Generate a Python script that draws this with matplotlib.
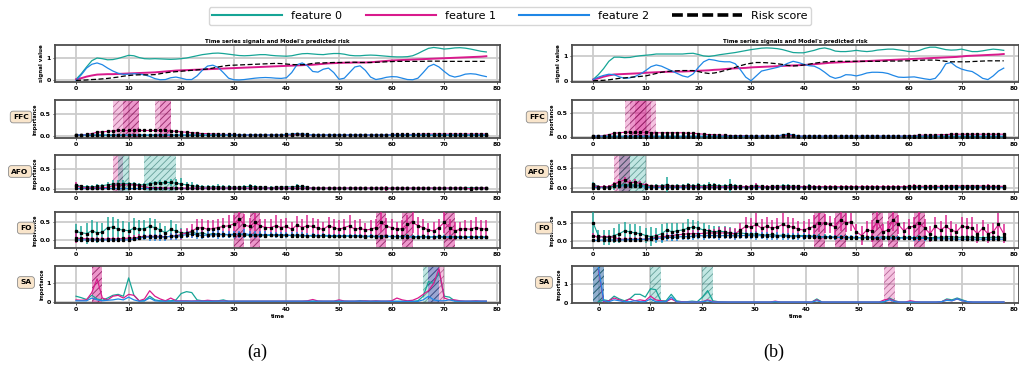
import matplotlib
matplotlib.use("Agg")
import matplotlib.pyplot as plt
from matplotlib.lines import Line2D
from matplotlib.colors import to_rgb
import numpy as np

plt.rcParams["hatch.linewidth"] = 0.6

C0, C1, C2 = "#16a596", "#d91a8c", "#1f87e6"
T = np.arange(79)

# ---------------- panel (a) ----------------
sig_a_f0 = [0.05, 0.3, 0.6, 0.88, 1.0, 0.97, 0.92, 0.93, 0.98, 1.05,
            1.12, 1.1, 1.02, 0.97, 0.96, 0.97, 0.96, 0.95, 0.94, 0.95,
            0.97, 1.0, 1.05, 1.1, 1.15, 1.18, 1.21, 1.22, 1.2, 1.17,
            1.14, 1.11, 1.1, 1.11, 1.13, 1.15, 1.15, 1.12, 1.1, 1.09,
            1.08, 1.1, 1.15, 1.19, 1.2, 1.18, 1.16, 1.15, 1.18, 1.2,
            1.2, 1.17, 1.12, 1.1, 1.1, 1.12, 1.13, 1.12, 1.1, 1.08,
            1.06, 1.05, 1.05, 1.06, 1.1, 1.2, 1.32, 1.43, 1.47, 1.44,
            1.4, 1.42, 1.45, 1.46, 1.44, 1.4, 1.35, 1.3, 1.27]
sig_a_f1 = [0.05, 0.1, 0.17, 0.22, 0.26, 0.27, 0.28, 0.28, 0.29, 0.3,
            0.31, 0.32, 0.33, 0.34, 0.35, 0.36, 0.38, 0.4, 0.42, 0.44,
            0.45, 0.46, 0.47, 0.48, 0.49, 0.5, 0.51, 0.52, 0.53, 0.54,
            0.55, 0.56, 0.57, 0.58, 0.59, 0.6, 0.61, 0.62, 0.63, 0.64,
            0.65, 0.66, 0.67, 0.68, 0.69, 0.7, 0.72, 0.74, 0.76, 0.77,
            0.78, 0.79, 0.79, 0.8, 0.8, 0.8, 0.81, 0.83, 0.85, 0.87,
            0.89, 0.9, 0.91, 0.92, 0.93, 0.94, 0.95, 0.96, 0.97, 0.98,
            0.99, 1.0, 1.01, 1.02, 1.03, 1.04, 1.05, 1.06, 1.08]
sig_a_f2 = [0.0, 0.25, 0.55, 0.72, 0.78, 0.7, 0.55, 0.42, 0.32, 0.27,
            0.28, 0.3, 0.28, 0.25, 0.18, 0.08, 0.03, 0.04, 0.12, 0.15,
            0.1, 0.04, 0.04, 0.2, 0.45, 0.64, 0.68, 0.58, 0.35, 0.1,
            0.03, 0.02, 0.04, 0.07, 0.1, 0.12, 0.13, 0.12, 0.1, 0.09,
            0.12, 0.35, 0.7, 0.78, 0.65, 0.4, 0.37, 0.5, 0.55, 0.35,
            0.05, 0.1, 0.35, 0.6, 0.65, 0.45, 0.15, 0.04, 0.08, 0.14,
            0.17, 0.16, 0.1, 0.04, 0.03, 0.1, 0.35, 0.62, 0.72, 0.6,
            0.4, 0.22, 0.15, 0.2, 0.28, 0.3, 0.28, 0.22, 0.17]
risk_a = [0.0, 0.01, 0.02, 0.04, 0.05, 0.07, 0.09, 0.12, 0.15, 0.19,
          0.22, 0.24, 0.25, 0.25, 0.25, 0.26, 0.3, 0.34, 0.37, 0.39,
          0.41, 0.43, 0.45, 0.47, 0.49, 0.51, 0.55, 0.6, 0.64, 0.67,
          0.68, 0.69, 0.7, 0.71, 0.72, 0.73, 0.74, 0.75, 0.76, 0.75,
          0.73, 0.71, 0.7, 0.7, 0.72, 0.76, 0.78, 0.78, 0.79, 0.8,
          0.8, 0.8, 0.81, 0.81, 0.8, 0.8, 0.8, 0.81, 0.82, 0.83,
          0.84, 0.85, 0.85, 0.85, 0.85, 0.85, 0.85, 0.86, 0.86, 0.86,
          0.85, 0.85, 0.85, 0.85, 0.85, 0.85, 0.85, 0.85, 0.85]

ffc_a_f0 = [0.01, 0.01, 0.01, 0.01, 0.01, 0.01, 0.01, 0.01, 0.01, 0.01,
            0.01, 0.01, 0.01, 0.01, 0.01, 0.01, 0.01, 0.01, 0.01, 0.01,
            0.01, 0.01, 0.01, 0.01, 0.01, 0.01, 0.01, 0.01, 0.01, 0.01,
            0.01, 0.01, 0.01, 0.01, 0.01, 0.01, 0.01, 0.01, 0.01, 0.01,
            0.02, 0.02, 0.03, 0.02, 0.02, 0.01, 0.01, 0.01, 0.01, 0.01,
            0.01, 0.01, 0.01, 0.01, 0.01, 0.01, 0.01, 0.01, 0.01, 0.01,
            0.01, 0.01, 0.01, 0.01, 0.01, 0.01, 0.01, 0.01, 0.01, 0.01,
            0.01, 0.01, 0.01, 0.01, 0.01, 0.01, 0.01, 0.01, 0.01]
ffc_a_f1 = [0.02, 0.02, 0.03, 0.05, 0.08, 0.09, 0.1, 0.11, 0.12, 0.12,
            0.12, 0.12, 0.12, 0.12, 0.12, 0.12, 0.12, 0.12, 0.11, 0.1,
            0.09, 0.08, 0.07, 0.06, 0.05, 0.05, 0.04, 0.04, 0.03, 0.03,
            0.03, 0.02, 0.02, 0.02, 0.02, 0.02, 0.02, 0.02, 0.02, 0.02,
            0.02, 0.02, 0.03, 0.03, 0.02, 0.02, 0.02, 0.02, 0.02, 0.02,
            0.02, 0.02, 0.02, 0.02, 0.02, 0.02, 0.02, 0.02, 0.02, 0.02,
            0.03, 0.03, 0.03, 0.03, 0.03, 0.03, 0.04, 0.04, 0.04, 0.04,
            0.04, 0.04, 0.04, 0.04, 0.04, 0.04, 0.04, 0.04, 0.04]
ffc_a_f2 = [0.02, 0.02, 0.02, 0.02, 0.02, 0.02, 0.02, 0.02, 0.02, 0.02,
            0.02, 0.02, 0.02, 0.02, 0.02, 0.02, 0.02, 0.02, 0.02, 0.02,
            0.02, 0.02, 0.02, 0.02, 0.02, 0.02, 0.02, 0.02, 0.02, 0.02,
            0.02, 0.02, 0.02, 0.02, 0.02, 0.02, 0.02, 0.02, 0.02, 0.02,
            0.03, 0.04, 0.05, 0.04, 0.03, 0.02, 0.02, 0.02, 0.02, 0.02,
            0.02, 0.02, 0.02, 0.02, 0.02, 0.02, 0.02, 0.02, 0.02, 0.02,
            0.02, 0.02, 0.02, 0.02, 0.02, 0.02, 0.02, 0.02, 0.02, 0.02,
            0.02, 0.02, 0.02, 0.02, 0.02, 0.02, 0.02, 0.02, 0.02]

afo_a_f0 = [0.1, 0.06, 0.05, 0.05, 0.06, 0.08, 0.1, 0.12, 0.12, 0.13,
            0.13, 0.12, 0.1, 0.1, 0.13, 0.15, 0.15, 0.16, 0.16, 0.14,
            0.12, 0.1, 0.08, 0.06, 0.05, 0.04, 0.05, 0.05, 0.04, 0.04,
            0.04, 0.04, 0.05, 0.06, 0.05, 0.04, 0.04, 0.03, 0.04, 0.04,
            0.05, 0.05, 0.06, 0.06, 0.04, 0.02, 0.02, 0.02, 0.02, 0.02,
            0.02, 0.02, 0.02, 0.02, 0.02, 0.02, 0.02, 0.02, 0.02, 0.02,
            0.02, 0.02, 0.02, 0.02, 0.02, 0.02, 0.02, 0.02, 0.02, 0.02,
            0.02, 0.02, 0.02, 0.02, 0.02, 0.03, 0.03, 0.03, 0.02]
afo_a_e0 = [0.05, 0.03, 0.05, 0.05, 0.05, 0.05, 0.07, 0.1, 0.1, 0.08,
            0.05, 0.05, 0.05, 0.05, 0.05, 0.05, 0.06, 0.06, 0.08, 0.1,
            0.15, 0.08, 0.08, 0.06, 0.05, 0.05, 0.05, 0.06, 0.05, 0.06,
            0.04, 0.04, 0.05, 0.05, 0.05, 0.04, 0.04, 0.03, 0.03, 0.03,
            0.03, 0.03, 0.06, 0.04, 0.03, 0.02, 0.02, 0.02, 0.02, 0.02,
            0.02, 0.02, 0.02, 0.02, 0.02, 0.02, 0.02, 0.02, 0.02, 0.02,
            0.02, 0.02, 0.02, 0.02, 0.02, 0.02, 0.02, 0.02, 0.02, 0.02,
            0.02, 0.02, 0.02, 0.02, 0.02, 0.02, 0.02, 0.02, 0.02]
afo_a_f1 = [0.08, 0.03, 0.03, 0.03, 0.03, 0.03, 0.04, 0.08, 0.1, 0.1,
            0.1, 0.1, 0.08, 0.05, 0.03, 0.03, 0.03, 0.02, 0.02, 0.02,
            0.02, 0.02, 0.02, 0.02, 0.02, 0.02, 0.02, 0.02, 0.02, 0.02,
            0.02, 0.02, 0.02, 0.02, 0.02, 0.02, 0.02, 0.02, 0.02, 0.02,
            0.02, 0.02, 0.02, 0.02, 0.02, 0.02, 0.02, 0.02, 0.02, 0.02,
            0.02, 0.02, 0.02, 0.02, 0.02, 0.02, 0.02, 0.02, 0.02, 0.01,
            0.02, 0.02, 0.02, 0.02, 0.02, 0.02, 0.02, 0.02, 0.02, 0.02,
            0.02, 0.02, 0.02, 0.02, 0.02, 0.0, 0.02, 0.02, 0.02]
afo_a_e1 = [0.1, 0.02, 0.02, 0.02, 0.02, 0.02, 0.02, 0.04, 0.04, 0.04,
            0.04, 0.04, 0.02, 0.02, 0.02, 0.02, 0.02, 0.02, 0.02, 0.02,
            0.02, 0.02, 0.02, 0.02, 0.02, 0.02, 0.02, 0.02, 0.02, 0.02,
            0.02, 0.02, 0.02, 0.02, 0.02, 0.02, 0.02, 0.02, 0.02, 0.02,
            0.02, 0.02, 0.02, 0.02, 0.02, 0.02, 0.02, 0.02, 0.02, 0.02,
            0.02, 0.02, 0.02, 0.02, 0.02, 0.02, 0.02, 0.02, 0.02, 0.06,
            0.02, 0.02, 0.02, 0.02, 0.02, 0.02, 0.02, 0.02, 0.02, 0.02,
            0.02, 0.02, 0.02, 0.02, 0.02, 0.05, 0.02, 0.02, 0.02]
afo_a_f2 = [0.01, 0.01, 0.01, 0.01, 0.01, 0.01, 0.01, 0.01, 0.01, 0.01,
            0.01, 0.01, 0.01, 0.01, 0.01, 0.01, 0.01, 0.01, 0.01, 0.01,
            0.01, 0.01, 0.01, 0.01, 0.01, 0.01, 0.01, 0.01, 0.01, 0.01,
            0.01, 0.01, 0.01, 0.01, 0.01, 0.01, 0.01, 0.01, 0.01, 0.01,
            0.01, 0.01, 0.01, 0.01, 0.01, 0.01, 0.01, 0.01, 0.01, 0.01,
            0.01, 0.01, 0.01, 0.01, 0.01, 0.01, 0.01, 0.01, 0.01, 0.01,
            0.01, 0.01, 0.01, 0.01, 0.01, 0.01, 0.01, 0.01, 0.01, 0.01,
            0.01, 0.01, 0.01, 0.01, 0.01, 0.01, 0.01, 0.01, 0.01]

fo_a_f0 = [0.24, 0.2, 0.18, 0.26, 0.2, 0.22, 0.35, 0.36, 0.3, 0.28,
           0.26, 0.33, 0.3, 0.32, 0.38, 0.35, 0.28, 0.2, 0.3, 0.25,
           0.2, 0.2, 0.22, 0.18, 0.2, 0.15, 0.18, 0.16, 0.15, 0.14,
           0.15, 0.16, 0.14, 0.13, 0.14, 0.15, 0.12, 0.13, 0.14, 0.12,
           0.13, 0.12, 0.12, 0.11, 0.12, 0.1, 0.12, 0.11, 0.1, 0.1,
           0.1, 0.11, 0.1, 0.12, 0.1, 0.08, 0.1, 0.09, 0.09, 0.1,
           0.09, 0.1, 0.09, 0.1, 0.08, 0.09, 0.1, 0.08, 0.09, 0.1,
           0.08, 0.09, 0.09, 0.08, 0.08, 0.09, 0.08, 0.09, 0.08]
fo_a_e0 = [0.2, 0.2, 0.3, 0.3, 0.3, 0.25, 0.3, 0.3, 0.3, 0.25,
           0.25, 0.3, 0.25, 0.25, 0.25, 0.25, 0.2, 0.2, 0.25, 0.2,
           0.15, 0.12, 0.1, 0.1, 0.1, 0.08, 0.08, 0.08, 0.08, 0.08,
           0.06, 0.06, 0.06, 0.06, 0.06, 0.06, 0.06, 0.06, 0.06, 0.06,
           0.06, 0.06, 0.06, 0.06, 0.06, 0.06, 0.06, 0.06, 0.06, 0.06,
           0.06, 0.06, 0.06, 0.06, 0.06, 0.06, 0.06, 0.06, 0.06, 0.06,
           0.06, 0.06, 0.06, 0.06, 0.06, 0.06, 0.06, 0.06, 0.06, 0.06,
           0.06, 0.06, 0.06, 0.06, 0.06, 0.06, 0.06, 0.06, 0.06]
fo_a_f1 = [0.05, 0.04, 0.03, 0.03, 0.02, 0.02, 0.03, 0.03, 0.03, 0.04,
           0.05, 0.05, 0.08, 0.1, 0.1, 0.1, 0.1, 0.09, 0.1, 0.12,
           0.15, 0.2, 0.25, 0.33, 0.35, 0.3, 0.32, 0.35, 0.38, 0.4,
           0.45, 0.6, 0.42, 0.38, 0.5, 0.4, 0.35, 0.35, 0.4, 0.35,
           0.38, 0.3, 0.42, 0.35, 0.4, 0.38, 0.33, 0.3, 0.4, 0.35,
           0.3, 0.35, 0.4, 0.3, 0.33, 0.28, 0.3, 0.35, 0.52, 0.38,
           0.35, 0.3, 0.32, 0.45, 0.5, 0.4, 0.35, 0.28, 0.25, 0.35,
           0.5, 0.35, 0.25, 0.3, 0.32, 0.3, 0.35, 0.32, 0.3]
fo_a_e1 = [0.15, 0.05, 0.05, 0.05, 0.05, 0.05, 0.05, 0.05, 0.05, 0.05,
           0.1, 0.08, 0.08, 0.08, 0.08, 0.08, 0.08, 0.08, 0.1, 0.1,
           0.15, 0.15, 0.2, 0.25, 0.25, 0.25, 0.25, 0.25, 0.25, 0.3,
           0.25, 0.25, 0.3, 0.25, 0.25, 0.2, 0.25, 0.25, 0.3, 0.25,
           0.25, 0.2, 0.25, 0.25, 0.3, 0.25, 0.25, 0.2, 0.25, 0.25,
           0.25, 0.25, 0.3, 0.25, 0.25, 0.2, 0.25, 0.25, 0.3, 0.25,
           0.25, 0.2, 0.25, 0.25, 0.3, 0.25, 0.25, 0.2, 0.25, 0.25,
           0.3, 0.25, 0.25, 0.2, 0.25, 0.25, 0.3, 0.25, 0.25]
fo_a_f2 = [0.0, 0.0, 0.0, 0.0, 0.0, 0.0, 0.0, 0.0, 0.0, 0.0,
           0.0, 0.02, 0.05, 0.08, 0.08, 0.08, 0.08, 0.08, 0.1, 0.1,
           0.12, 0.15, 0.16, 0.15, 0.12, 0.14, 0.15, 0.15, 0.16, 0.15,
           0.16, 0.15, 0.18, 0.15, 0.14, 0.15, 0.14, 0.15, 0.14, 0.15,
           0.14, 0.13, 0.14, 0.13, 0.12, 0.13, 0.12, 0.13, 0.12, 0.12,
           0.12, 0.11, 0.12, 0.11, 0.12, 0.1, 0.11, 0.1, 0.1, 0.1,
           0.1, 0.09, 0.1, 0.09, 0.08, 0.09, 0.08, 0.08, 0.08, 0.08,
           0.08, 0.08, 0.07, 0.07, 0.07, 0.07, 0.07, 0.07, 0.07]
fo_a_e2 = [0.02, 0.02, 0.02, 0.02, 0.02, 0.02, 0.02, 0.02, 0.02, 0.02,
           0.02, 0.03, 0.05, 0.08, 0.1, 0.1, 0.1, 0.1, 0.1, 0.1,
           0.1, 0.1, 0.1, 0.12, 0.1, 0.1, 0.1, 0.12, 0.1, 0.1,
           0.1, 0.1, 0.12, 0.1, 0.1, 0.1, 0.1, 0.08, 0.08, 0.08,
           0.08, 0.08, 0.08, 0.08, 0.08, 0.06, 0.06, 0.06, 0.06, 0.06,
           0.06, 0.06, 0.06, 0.06, 0.06, 0.05, 0.05, 0.05, 0.05, 0.05,
           0.05, 0.05, 0.05, 0.05, 0.05, 0.05, 0.05, 0.05, 0.05, 0.05,
           0.05, 0.05, 0.05, 0.05, 0.05, 0.05, 0.05, 0.05, 0.05]

sa_a_f0 = [0.3, 0.22, 0.12, 0.35, 0.15, 0.08, 0.2, 0.35, 0.4, 0.3,
           1.3, 0.35, 0.05, 0.05, 0.3, 0.1, 0.05, 0.05, 0.05, 0.1,
           0.45, 0.55, 0.5, 0.1, 0.05, 0.04, 0.03, 0.05, 0.1, 0.02,
           0.02, 0.02, 0.02, 0.02, 0.02, 0.02, 0.02, 0.02, 0.02, 0.02,
           0.02, 0.02, 0.02, 0.02, 0.02, 0.02, 0.02, 0.02, 0.02, 0.02,
           0.02, 0.02, 0.02, 0.02, 0.06, 0.03, 0.02, 0.02, 0.02, 0.02,
           0.02, 0.02, 0.02, 0.02, 0.02, 0.05, 0.3, 1.1, 1.0, 1.6,
           0.3, 0.25, 0.05, 0.02, 0.02, 0.02, 0.02, 0.02, 0.02]
sa_a_f1 = [0.1, 0.08, 0.1, 0.5, 1.25, 0.2, 0.1, 0.3, 0.35, 0.2,
           0.4, 0.35, 0.05, 0.15, 0.6, 0.3, 0.15, 0.05, 0.2, 0.05,
           0.05, 0.05, 0.04, 0.05, 0.04, 0.08, 0.05, 0.04, 0.05, 0.03,
           0.03, 0.03, 0.03, 0.03, 0.03, 0.03, 0.03, 0.03, 0.03, 0.03,
           0.03, 0.03, 0.03, 0.03, 0.05, 0.12, 0.04, 0.03, 0.03, 0.03,
           0.1, 0.04, 0.03, 0.03, 0.03, 0.05, 0.03, 0.05, 0.03, 0.03,
           0.05, 0.2, 0.1, 0.05, 0.08, 0.2, 0.4, 0.6, 1.0, 1.8,
           0.2, 0.1, 0.1, 0.05, 0.03, 0.03, 0.05, 0.03, 0.03]
sa_a_f2 = [0.05, 0.05, 0.05, 0.2, 0.1, 0.05, 0.08, 0.1, 0.15, 0.1,
           0.25, 0.1, 0.03, 0.05, 0.2, 0.05, 0.03, 0.03, 0.03, 0.03,
           0.03, 0.03, 0.03, 0.03, 0.03, 0.03, 0.03, 0.03, 0.03, 0.03,
           0.03, 0.03, 0.03, 0.03, 0.03, 0.03, 0.03, 0.03, 0.03, 0.03,
           0.03, 0.03, 0.03, 0.03, 0.03, 0.03, 0.03, 0.03, 0.03, 0.03,
           0.03, 0.03, 0.03, 0.03, 0.03, 0.03, 0.03, 0.03, 0.03, 0.03,
           0.02, 0.02, 0.02, 0.02, 0.02, 0.02, 0.1, 0.3, 0.1, 0.05,
           0.05, 0.1, 0.03, 0.03, 0.03, 0.03, 0.03, 0.03, 0.03]

# ---------------- panel (b) ----------------
sig_b_f0 = [0.05, 0.25, 0.5, 0.8, 0.97, 0.97, 0.95, 0.96, 1.0, 1.03,
            1.05, 1.07, 1.1, 1.1, 1.1, 1.1, 1.1, 1.1, 1.12, 1.13,
            1.08, 1.02, 1.0, 1.03, 1.07, 1.1, 1.13, 1.16, 1.2, 1.24,
            1.28, 1.31, 1.34, 1.35, 1.34, 1.32, 1.28, 1.22, 1.16, 1.15,
            1.15, 1.2, 1.25, 1.32, 1.35, 1.3, 1.22, 1.2, 1.2, 1.22,
            1.25, 1.22, 1.2, 1.22, 1.26, 1.28, 1.3, 1.3, 1.27, 1.24,
            1.2, 1.2, 1.25, 1.33, 1.38, 1.38, 1.33, 1.28, 1.26, 1.27,
            1.3, 1.25, 1.2, 1.2, 1.23, 1.27, 1.3, 1.28, 1.25]
sig_b_f1 = [0.05, 0.1, 0.17, 0.22, 0.26, 0.27, 0.28, 0.29, 0.3, 0.31,
            0.33, 0.34, 0.35, 0.36, 0.37, 0.37, 0.38, 0.38, 0.39, 0.4,
            0.41, 0.42, 0.43, 0.45, 0.46, 0.48, 0.5, 0.51, 0.52, 0.53,
            0.55, 0.56, 0.57, 0.58, 0.59, 0.6, 0.61, 0.62, 0.63, 0.64,
            0.65, 0.66, 0.68, 0.7, 0.72, 0.74, 0.75, 0.76, 0.77, 0.78,
            0.79, 0.8, 0.81, 0.82, 0.83, 0.84, 0.85, 0.86, 0.87, 0.88,
            0.89, 0.9, 0.91, 0.92, 0.93, 0.94, 0.95, 0.96, 0.97, 0.98,
            1.0, 1.02, 1.03, 1.04, 1.05, 1.06, 1.07, 1.08, 1.1]
sig_b_f2 = [0.05, 0.15, 0.22, 0.27, 0.25, 0.16, 0.1, 0.12, 0.18, 0.28,
            0.42, 0.58, 0.65, 0.6, 0.5, 0.4, 0.3, 0.2, 0.15, 0.28,
            0.55, 0.78, 0.88, 0.85, 0.8, 0.78, 0.78, 0.7, 0.45, 0.15,
            0.0, 0.2, 0.4, 0.45, 0.5, 0.55, 0.62, 0.72, 0.8, 0.75,
            0.68, 0.62, 0.6, 0.5, 0.35, 0.18, 0.1, 0.15, 0.25, 0.24,
            0.2, 0.25, 0.32, 0.35, 0.35, 0.34, 0.3, 0.22, 0.15, 0.14,
            0.15, 0.16, 0.12, 0.08, 0.05, 0.1, 0.35, 0.7, 0.75, 0.58,
            0.48, 0.42, 0.38, 0.25, 0.1, 0.05, 0.2, 0.4, 0.52]
risk_b = [0.0, 0.01, 0.02, 0.04, 0.07, 0.1, 0.12, 0.14, 0.16, 0.18,
          0.2, 0.25, 0.3, 0.35, 0.38, 0.4, 0.41, 0.42, 0.42, 0.42,
          0.38, 0.33, 0.3, 0.32, 0.36, 0.42, 0.48, 0.55, 0.62, 0.68,
          0.72, 0.75, 0.75, 0.74, 0.72, 0.7, 0.67, 0.63, 0.61, 0.62,
          0.65, 0.68, 0.72, 0.75, 0.78, 0.79, 0.8, 0.8, 0.8, 0.8,
          0.8, 0.8, 0.8, 0.8, 0.8, 0.8, 0.81, 0.81, 0.81, 0.82,
          0.82, 0.83, 0.84, 0.85, 0.85, 0.85, 0.83, 0.8, 0.78, 0.78,
          0.78, 0.78, 0.79, 0.8, 0.81, 0.82, 0.82, 0.82, 0.82]

ffc_b_f0 = [0.01, 0.01, 0.01, 0.01, 0.01, 0.01, 0.01, 0.01, 0.01, 0.01,
            0.01, 0.01, 0.01, 0.01, 0.01, 0.01, 0.01, 0.01, 0.01, 0.01,
            0.01, 0.01, 0.01, 0.01, 0.01, 0.01, 0.01, 0.01, 0.01, 0.01,
            0.01, 0.01, 0.01, 0.01, 0.01, 0.01, 0.03, 0.03, 0.03, 0.01,
            0.01, 0.01, 0.01, 0.01, 0.01, 0.01, 0.01, 0.01, 0.01, 0.01,
            0.01, 0.01, 0.01, 0.01, 0.01, 0.01, 0.01, 0.01, 0.01, 0.01,
            0.01, 0.01, 0.01, 0.01, 0.01, 0.01, 0.01, 0.01, 0.01, 0.01,
            0.01, 0.01, 0.01, 0.01, 0.01, 0.01, 0.01, 0.01, 0.01]
ffc_b_f1 = [0.02, 0.02, 0.03, 0.05, 0.08, 0.09, 0.1, 0.1, 0.1, 0.1,
            0.1, 0.09, 0.09, 0.09, 0.09, 0.09, 0.09, 0.09, 0.08, 0.08,
            0.07, 0.06, 0.05, 0.05, 0.04, 0.04, 0.03, 0.03, 0.03, 0.03,
            0.02, 0.02, 0.02, 0.02, 0.02, 0.02, 0.03, 0.03, 0.03, 0.02,
            0.02, 0.02, 0.02, 0.02, 0.02, 0.02, 0.02, 0.02, 0.02, 0.02,
            0.02, 0.02, 0.02, 0.02, 0.02, 0.02, 0.02, 0.02, 0.02, 0.02,
            0.03, 0.03, 0.04, 0.04, 0.04, 0.04, 0.05, 0.05, 0.06, 0.06,
            0.06, 0.06, 0.06, 0.06, 0.06, 0.06, 0.06, 0.06, 0.06]
ffc_b_f2 = [0.02, 0.02, 0.02, 0.02, 0.02, 0.02, 0.02, 0.02, 0.02, 0.02,
            0.02, 0.02, 0.02, 0.02, 0.02, 0.02, 0.02, 0.02, 0.02, 0.02,
            0.02, 0.02, 0.02, 0.02, 0.02, 0.02, 0.02, 0.02, 0.02, 0.02,
            0.02, 0.02, 0.02, 0.02, 0.02, 0.02, 0.05, 0.06, 0.05, 0.02,
            0.02, 0.02, 0.02, 0.02, 0.02, 0.02, 0.02, 0.02, 0.02, 0.02,
            0.02, 0.02, 0.02, 0.02, 0.02, 0.02, 0.02, 0.02, 0.02, 0.02,
            0.02, 0.02, 0.02, 0.02, 0.02, 0.02, 0.02, 0.02, 0.02, 0.02,
            0.02, 0.02, 0.02, 0.02, 0.02, 0.02, 0.02, 0.02, 0.02]

afo_b_f0 = [0.1, 0.03, 0.03, 0.03, 0.04, 0.06, 0.08, 0.07, 0.08, 0.06,
            0.05, 0.04, 0.05, 0.05, 0.08, 0.04, 0.05, 0.05, 0.06, 0.05,
            0.06, 0.05, 0.06, 0.06, 0.05, 0.05, 0.06, 0.05, 0.04, 0.03,
            0.04, 0.05, 0.04, 0.03, 0.04, 0.04, 0.05, 0.05, 0.04, 0.04,
            0.03, 0.04, 0.03, 0.02, 0.02, 0.02, 0.02, 0.02, 0.02, 0.02,
            0.02, 0.02, 0.02, 0.02, 0.02, 0.02, 0.02, 0.02, 0.02, 0.02,
            0.02, 0.02, 0.02, 0.02, 0.02, 0.02, 0.03, 0.03, 0.03, 0.03,
            0.03, 0.03, 0.03, 0.03, 0.03, 0.03, 0.03, 0.03, 0.03]
afo_b_e0 = [0.05, 0.03, 0.03, 0.03, 0.08, 0.08, 0.08, 0.08, 0.08, 0.08,
            0.04, 0.04, 0.04, 0.04, 0.2, 0.04, 0.05, 0.05, 0.05, 0.05,
            0.05, 0.05, 0.08, 0.05, 0.05, 0.05, 0.15, 0.05, 0.04, 0.03,
            0.03, 0.04, 0.03, 0.03, 0.03, 0.03, 0.04, 0.04, 0.03, 0.03,
            0.03, 0.05, 0.03, 0.03, 0.03, 0.03, 0.03, 0.03, 0.03, 0.03,
            0.03, 0.03, 0.03, 0.03, 0.03, 0.03, 0.03, 0.03, 0.03, 0.03,
            0.03, 0.03, 0.03, 0.03, 0.03, 0.03, 0.03, 0.03, 0.03, 0.03,
            0.03, 0.03, 0.03, 0.03, 0.03, 0.03, 0.03, 0.03, 0.03]
afo_b_f1 = [0.05, 0.03, 0.03, 0.03, 0.1, 0.15, 0.2, 0.12, 0.15, 0.1,
            0.08, 0.05, 0.04, 0.04, 0.04, 0.04, 0.04, 0.04, 0.04, 0.04,
            0.03, 0.03, 0.03, 0.03, 0.03, 0.03, 0.03, 0.03, 0.03, 0.03,
            0.03, 0.04, 0.03, 0.03, 0.03, 0.03, 0.03, 0.03, 0.03, 0.03,
            0.03, 0.03, 0.03, 0.03, 0.03, 0.03, 0.03, 0.03, 0.03, 0.03,
            0.03, 0.03, 0.03, 0.03, 0.03, 0.03, 0.03, 0.03, 0.03, 0.03,
            0.04, 0.04, 0.04, 0.04, 0.04, 0.04, 0.04, 0.04, 0.05, 0.05,
            0.05, 0.05, 0.05, 0.05, 0.05, 0.04, 0.04, 0.04, 0.04]
afo_b_e1 = [0.03, 0.03, 0.03, 0.03, 0.05, 0.08, 0.08, 0.08, 0.08, 0.08,
            0.03, 0.03, 0.03, 0.03, 0.03, 0.03, 0.03, 0.03, 0.03, 0.03,
            0.03, 0.03, 0.03, 0.03, 0.03, 0.03, 0.03, 0.03, 0.03, 0.03,
            0.03, 0.08, 0.03, 0.03, 0.03, 0.03, 0.03, 0.03, 0.03, 0.03,
            0.03, 0.03, 0.03, 0.03, 0.03, 0.03, 0.03, 0.03, 0.03, 0.03,
            0.03, 0.03, 0.03, 0.03, 0.03, 0.03, 0.03, 0.03, 0.03, 0.03,
            0.03, 0.05, 0.03, 0.03, 0.03, 0.03, 0.03, 0.03, 0.03, 0.03,
            0.03, 0.03, 0.03, 0.03, 0.03, 0.06, 0.03, 0.03, 0.03]
afo_b_f2 = [0.01, 0.01, 0.01, 0.01, 0.05, 0.05, 0.05, 0.05, 0.05, 0.05,
            0.01, 0.01, 0.01, 0.01, 0.01, 0.01, 0.01, 0.01, 0.01, 0.01,
            0.01, 0.01, 0.01, 0.01, 0.01, 0.01, 0.01, 0.01, 0.01, 0.01,
            0.01, 0.01, 0.01, 0.01, 0.01, 0.01, 0.01, 0.01, 0.01, 0.01,
            0.01, 0.01, 0.01, 0.01, 0.01, 0.01, 0.01, 0.01, 0.01, 0.01,
            0.01, 0.01, 0.01, 0.01, 0.01, 0.01, 0.01, 0.01, 0.01, 0.01,
            0.01, 0.01, 0.01, 0.01, 0.01, 0.01, 0.01, 0.01, 0.01, 0.01,
            0.01, 0.01, 0.01, 0.01, 0.01, 0.01, 0.01, 0.01, 0.01]

fo_b_f0 = [0.5, 0.15, 0.1, 0.1, 0.15, 0.2, 0.28, 0.25, 0.22, 0.2,
           0.15, 0.12, 0.15, 0.2, 0.3, 0.25, 0.28, 0.3, 0.35, 0.38,
           0.35, 0.3, 0.28, 0.25, 0.27, 0.25, 0.22, 0.2, 0.22, 0.2,
           0.18, 0.2, 0.17, 0.16, 0.18, 0.15, 0.16, 0.15, 0.14, 0.15,
           0.15, 0.14, 0.13, 0.12, 0.12, 0.11, 0.1, 0.1, 0.09, 0.09,
           0.08, 0.09, 0.1, 0.1, 0.09, 0.12, 0.1, 0.1, 0.09, 0.1,
           0.1, 0.09, 0.1, 0.1, 0.09, 0.1, 0.1, 0.11, 0.12, 0.1,
           0.1, 0.11, 0.1, 0.1, 0.09, 0.1, 0.1, 0.1, 0.1]
fo_b_e0 = [0.35, 0.15, 0.2, 0.2, 0.2, 0.25, 0.25, 0.2, 0.25, 0.2,
           0.2, 0.25, 0.2, 0.25, 0.2, 0.25, 0.2, 0.2, 0.25, 0.2,
           0.2, 0.2, 0.15, 0.15, 0.15, 0.15, 0.15, 0.12, 0.12, 0.1,
           0.06, 0.06, 0.06, 0.06, 0.06, 0.06, 0.06, 0.06, 0.06, 0.06,
           0.06, 0.06, 0.06, 0.06, 0.06, 0.06, 0.06, 0.06, 0.06, 0.06,
           0.06, 0.06, 0.06, 0.06, 0.06, 0.06, 0.06, 0.06, 0.06, 0.06,
           0.06, 0.06, 0.06, 0.06, 0.06, 0.06, 0.06, 0.06, 0.06, 0.06,
           0.06, 0.06, 0.06, 0.06, 0.06, 0.06, 0.06, 0.06, 0.06]
fo_b_f1 = [0.15, 0.1, 0.12, 0.12, 0.1, 0.05, 0.05, 0.05, 0.05, 0.05,
           0.05, 0.07, 0.1, 0.12, 0.13, 0.15, 0.17, 0.18, 0.2, 0.2,
           0.2, 0.21, 0.22, 0.22, 0.22, 0.22, 0.21, 0.2, 0.3, 0.4,
           0.38, 0.45, 0.35, 0.4, 0.35, 0.38, 0.45, 0.4, 0.38, 0.32,
           0.3, 0.35, 0.4, 0.5, 0.48, 0.45, 0.38, 0.58, 0.5, 0.52,
           0.25, 0.15, 0.3, 0.28, 0.55, 0.25, 0.3, 0.58, 0.45, 0.28,
           0.38, 0.4, 0.48, 0.35, 0.2, 0.4, 0.3, 0.4, 0.3, 0.25,
           0.4, 0.38, 0.35, 0.2, 0.35, 0.2, 0.25, 0.45, 0.2]
fo_b_e1 = [0.08, 0.05, 0.05, 0.05, 0.05, 0.05, 0.05, 0.05, 0.05, 0.05,
           0.05, 0.06, 0.08, 0.08, 0.08, 0.1, 0.1, 0.1, 0.1, 0.1,
           0.1, 0.1, 0.12, 0.12, 0.15, 0.15, 0.15, 0.15, 0.2, 0.25,
           0.25, 0.3, 0.25, 0.25, 0.22, 0.25, 0.3, 0.25, 0.25, 0.22,
           0.25, 0.25, 0.3, 0.25, 0.25, 0.22, 0.25, 0.3, 0.25, 0.25,
           0.22, 0.25, 0.25, 0.3, 0.25, 0.22, 0.25, 0.3, 0.25, 0.25,
           0.22, 0.25, 0.3, 0.25, 0.22, 0.25, 0.25, 0.3, 0.25, 0.22,
           0.25, 0.25, 0.3, 0.25, 0.22, 0.25, 0.25, 0.3, 0.25]
fo_b_f2 = [0.02, 0.02, 0.03, 0.03, 0.03, 0.03, 0.03, 0.04, 0.04, 0.04,
           0.05, 0.06, 0.07, 0.08, 0.1, 0.1, 0.11, 0.12, 0.12, 0.13,
           0.15, 0.14, 0.15, 0.15, 0.14, 0.15, 0.15, 0.14, 0.15, 0.15,
           0.15, 0.14, 0.15, 0.14, 0.13, 0.14, 0.13, 0.13, 0.12, 0.13,
           0.12, 0.12, 0.12, 0.11, 0.11, 0.11, 0.1, 0.1, 0.1, 0.1,
           0.1, 0.09, 0.09, 0.09, 0.09, 0.08, 0.08, 0.08, 0.08, 0.08,
           0.08, 0.07, 0.07, 0.07, 0.06, 0.06, 0.06, 0.06, 0.06, 0.05,
           0.05, 0.05, 0.05, 0.05, 0.05, 0.05, 0.05, 0.05, 0.05]
fo_b_e2 = [0.03, 0.03, 0.03, 0.03, 0.03, 0.03, 0.03, 0.03, 0.03, 0.03,
           0.05, 0.06, 0.1, 0.1, 0.1, 0.1, 0.1, 0.1, 0.1, 0.1,
           0.1, 0.1, 0.1, 0.1, 0.1, 0.1, 0.1, 0.1, 0.1, 0.1,
           0.1, 0.1, 0.1, 0.1, 0.1, 0.1, 0.1, 0.1, 0.1, 0.1,
           0.1, 0.06, 0.06, 0.06, 0.06, 0.06, 0.06, 0.06, 0.06, 0.06,
           0.06, 0.06, 0.06, 0.06, 0.06, 0.06, 0.06, 0.06, 0.06, 0.06,
           0.06, 0.06, 0.06, 0.06, 0.06, 0.06, 0.06, 0.06, 0.06, 0.06,
           0.06, 0.06, 0.06, 0.06, 0.06, 0.06, 0.06, 0.06, 0.06]

sa_b_f0 = [0.05, 0.15, 0.1, 0.35, 0.2, 0.1, 0.2, 0.45, 0.45, 0.3,
           0.75, 0.7, 0.1, 0.1, 0.45, 0.1, 0.05, 0.05, 0.08, 0.05,
           0.3, 0.65, 0.1, 0.05, 0.04, 0.03, 0.03, 0.03, 0.03, 0.03,
           0.03, 0.03, 0.03, 0.03, 0.05, 0.03, 0.03, 0.03, 0.03, 0.03,
           0.03, 0.03, 0.2, 0.03, 0.03, 0.03, 0.03, 0.03, 0.03, 0.03,
           0.03, 0.03, 0.03, 0.03, 0.03, 0.05, 0.25, 0.1, 0.03, 0.03,
           0.03, 0.03, 0.03, 0.03, 0.03, 0.03, 0.05, 0.2, 0.15, 0.25,
           0.15, 0.05, 0.03, 0.03, 0.03, 0.03, 0.03, 0.03, 0.03]
sa_b_f1 = [1.8, 0.05, 0.1, 0.25, 0.15, 0.05, 0.2, 0.1, 0.15, 0.1,
           0.35, 0.15, 0.1, 0.05, 0.2, 0.05, 0.05, 0.03, 0.03, 0.03,
           0.05, 0.15, 0.05, 0.03, 0.03, 0.03, 0.03, 0.03, 0.03, 0.03,
           0.03, 0.03, 0.03, 0.03, 0.08, 0.03, 0.03, 0.03, 0.03, 0.03,
           0.03, 0.03, 0.15, 0.03, 0.03, 0.03, 0.03, 0.03, 0.03, 0.03,
           0.03, 0.03, 0.03, 0.03, 0.03, 0.15, 0.2, 0.08, 0.03, 0.03,
           0.1, 0.05, 0.03, 0.03, 0.03, 0.03, 0.05, 0.15, 0.1, 0.2,
           0.1, 0.05, 0.03, 0.03, 0.03, 0.03, 0.03, 0.03, 0.03]
sa_b_f2 = [1.9, 0.1, 0.05, 0.15, 0.1, 0.05, 0.05, 0.1, 0.05, 0.05,
           0.2, 0.05, 0.05, 0.05, 0.3, 0.05, 0.03, 0.03, 0.03, 0.03,
           0.05, 0.1, 0.03, 0.03, 0.03, 0.03, 0.03, 0.03, 0.03, 0.03,
           0.03, 0.03, 0.03, 0.03, 0.05, 0.03, 0.03, 0.03, 0.03, 0.03,
           0.03, 0.03, 0.1, 0.03, 0.03, 0.03, 0.03, 0.03, 0.03, 0.03,
           0.03, 0.03, 0.03, 0.03, 0.03, 0.05, 0.15, 0.05, 0.03, 0.03,
           0.03, 0.03, 0.03, 0.03, 0.03, 0.03, 0.05, 0.12, 0.1, 0.2,
           0.1, 0.05, 0.03, 0.03, 0.03, 0.03, 0.03, 0.03, 0.03]

# highlighted windows: (start, end, feature index)
spans_ffc_a = [(7, 12, 1), (9, 12, 1), (15, 18, 1), (16, 18, 1)]
spans_afo_a = [(7, 9, 1), (8, 10, 0), (13, 19, 0)]
spans_fo_a = [(30, 32, 1), (30, 32, 1), (33, 35, 1), (33, 35, 1), (57, 59, 1), (57, 59, 1),
              (62, 64, 1), (62, 64, 1), (70, 72, 1), (70, 72, 1)]
spans_sa_a = [(3, 5, 1), (3, 5, 1), (66, 69, 0), (67, 70, 1), (67, 69, 2)]
spans_ffc_b = [(6, 12, 1), (7, 11, 1), (8, 10, 1)]
spans_afo_b = [(4, 7, 1), (5, 7, 1), (5, 10, 0)]
spans_fo_b = [(42, 44, 1), (42, 44, 1), (46, 48, 1), (46, 48, 1), (53, 55, 1), (53, 55, 1),
              (56, 58, 1), (56, 58, 1), (61, 63, 1), (61, 63, 1)]
spans_sa_b = [(-1, 1, 1), (-1, 1, 2), (-1, 1, 0), (10, 12, 0), (20, 22, 0), (55, 57, 1)]

COLORS = [C0, C1, C2]
FIG_W, FIG_H = 1020, 371

fig = plt.figure(figsize=(10.2, 3.71), dpi=100)


def box(x, y0, y1, w):
    return [x / FIG_W, 1 - y1 / FIG_H, w / FIG_W, (y1 - y0) / FIG_H]


def style(ax, xlim, ylim, yticks, ylabels):
    ax.set_xlim(*xlim)
    ax.set_ylim(*ylim)
    ax.set_xticks(range(0, 81, 10))
    ax.set_yticks(yticks)
    ax.set_yticklabels(ylabels)
    ax.grid(True, color="#cccccc", lw=1.3, zorder=0)
    ax.set_axisbelow(True)
    ax.tick_params(labelsize=4.5, length=1.5, width=0.5, pad=1.5)
    for lab in ax.get_xticklabels() + ax.get_yticklabels():
        lab.set_fontweight("bold")
    for sp in ax.spines.values():
        sp.set_color("#4d4d4d")
        sp.set_linewidth(1.3)


def draw_spans(ax, spans):
    for a, b, k in spans:
        rgb = to_rgb(COLORS[k])
        dark = tuple(v * 0.55 for v in rgb)
        ax.axvspan(a, b, facecolor=(*rgb, 0.26), edgecolor=(*dark, 0.5),
                   hatch="/////", lw=0, zorder=1)


def draw_signal(ax, f0, f1, f2, risk):
    ax.plot(T, f0, color=C0, lw=0.9, zorder=3)
    ax.plot(T, f1, color=C1, lw=1.4, zorder=3)
    ax.plot(T, f2, color=C2, lw=0.9, zorder=3)
    ax.plot(T, risk, color="black", lw=0.9, ls=(0, (4, 2)), zorder=4)
    ax.set_title("Time series signals and Model's predicted risk",
                 fontsize=4, fontweight="bold", pad=1.5)
    ax.set_ylabel("signal value", fontsize=4, fontweight="bold", labelpad=2)


def draw_errbar(ax, means, errs):
    for k, (m, e) in enumerate(zip(means, errs)):
        c = COLORS[k]
        if e is None:
            ax.plot(T, m, color=c, lw=0.8, marker="s", ms=1.4, mfc="k", mec="k", zorder=3)
        else:
            ax.errorbar(T, m, yerr=e, color=c, lw=0.8, elinewidth=1.3,
                        ecolor=(*to_rgb(c), 0.8), marker="s", ms=1.4,
                        mfc="k", mec="k", capsize=0, zorder=3)
    ax.set_ylabel("importance", fontsize=3.5, fontweight="bold", labelpad=1.5)


def draw_sa(ax, means):
    for k, m in enumerate(means):
        ax.plot(T, m, color=COLORS[k], lw=0.9, zorder=3)
    ax.set_ylabel("importance", fontsize=3.5, fontweight="bold", labelpad=1.5)
    ax.set_xlabel("time", fontsize=4, fontweight="bold", labelpad=1)


def row_label(x, y, text):
    fig.text(x / FIG_W, 1 - y / FIG_H, text, ha="center", va="center",
             fontsize=5.4, fontweight="bold",
             bbox=dict(boxstyle="round,pad=0.38", fc="#f9e5cb", ec="#8c8c8c", lw=0.6))


columns = [
    dict(x=55, w=445, xlim=(-4, 80.6), sa_xlim=(-4, 80.6),
         sig=(sig_a_f0, sig_a_f1, sig_a_f2, risk_a), sig_ylim=(-0.07, 1.58),
         ffc=(ffc_a_f0, ffc_a_f1, ffc_a_f2), ffc_ylim=(-0.05, 0.81), ffc_sp=spans_ffc_a,
         afo=(afo_a_f0, afo_a_f1, afo_a_f2), afo_e=(afo_a_e0, afo_a_e1, None),
         afo_ylim=(-0.08, 0.85), afo_sp=spans_afo_a,
         fo=(fo_a_f0, fo_a_f1, fo_a_f2), fo_e=(fo_a_e0, fo_a_e1, fo_a_e2),
         fo_ylim=(-0.23, 0.79), fo_sp=spans_fo_a,
         sa=(sa_a_f0, sa_a_f1, sa_a_f2), sa_ylim=(-0.07, 1.95), sa_sp=spans_sa_a,
         lab_x=[21, 20, 26, 26], cap_x=257, cap="(a)"),
    dict(x=572, w=447, xlim=(-4, 80.9), sa_xlim=(-5.1, 80.9),
         sig=(sig_b_f0, sig_b_f1, sig_b_f2, risk_b), sig_ylim=(-0.05, 1.47),
         ffc=(ffc_b_f0, ffc_b_f1, ffc_b_f2), ffc_ylim=(-0.02, 0.78), ffc_sp=spans_ffc_b,
         afo=(afo_b_f0, afo_b_f1, afo_b_f2), afo_e=(afo_b_e0, afo_b_e1, None),
         afo_ylim=(-0.1, 0.81), afo_sp=spans_afo_b,
         fo=(fo_b_f0, fo_b_f1, fo_b_f2), fo_e=(fo_b_e0, fo_b_e1, fo_b_e2),
         fo_ylim=(-0.19, 0.79), fo_sp=spans_fo_b,
         sa=(sa_b_f0, sa_b_f1, sa_b_f2), sa_ylim=(-0.02, 1.98), sa_sp=spans_sa_b,
         lab_x=[537, 537, 544, 544], cap_x=774, cap="(b)"),
]

rows = [(45, 82), (100, 138), (155, 192), (212, 248), (266, 303)]

for col in columns:
    x, w = col["x"], col["w"]
    ax_sig = fig.add_axes(box(x, *rows[0], w))
    draw_signal(ax_sig, *col["sig"])
    style(ax_sig, col["xlim"], col["sig_ylim"], [0, 1], ["0", "1"])

    ax_ffc = fig.add_axes(box(x, *rows[1], w))
    draw_spans(ax_ffc, col["ffc_sp"])
    draw_errbar(ax_ffc, col["ffc"], (None, None, None))
    style(ax_ffc, col["xlim"], col["ffc_ylim"], [0, 0.5], ["0.0", "0.5"])

    ax_afo = fig.add_axes(box(x, *rows[2], w))
    draw_spans(ax_afo, col["afo_sp"])
    draw_errbar(ax_afo, col["afo"], col["afo_e"])
    style(ax_afo, col["xlim"], col["afo_ylim"], [0, 0.5], ["0.0", "0.5"])

    ax_fo = fig.add_axes(box(x, *rows[3], w))
    draw_spans(ax_fo, col["fo_sp"])
    draw_errbar(ax_fo, col["fo"], col["fo_e"])
    style(ax_fo, col["xlim"], col["fo_ylim"], [0, 0.5], ["0.0", "0.5"])

    ax_sa = fig.add_axes(box(x, *rows[4], w))
    draw_spans(ax_sa, col["sa_sp"])
    draw_sa(ax_sa, col["sa"])
    style(ax_sa, col["sa_xlim"], col["sa_ylim"], [0, 1], ["0", "1"])

    for (y0, y1), name, lx in zip(rows[1:], ["FFC", "AFO", "FO", "SA"], col["lab_x"]):
        row_label(lx, (y0 + y1) / 2 - 2, name)

    fig.text(col["cap_x"] / FIG_W, 1 - 352 / FIG_H, col["cap"], ha="center", va="center",
             fontsize=13, family="Liberation Serif")

handles = [Line2D([], [], color=C0, lw=1.5),
           Line2D([], [], color=C1, lw=1.5),
           Line2D([], [], color=C2, lw=1.5),
           Line2D([], [], color="black", lw=2.6, ls=(0, (3, 1.2)))]
fig.legend(handles, ["feature 0", "feature 1", "feature 2", "Risk score"],
           loc="upper center", bbox_to_anchor=(0.5, 0.995), ncol=4, fontsize=8,
           handlelength=6.3, handletextpad=0.8, columnspacing=2.1,
           borderpad=0.35, frameon=True, fancybox=True, edgecolor="#cccccc")

fig.savefig("out.png", dpi=100)
